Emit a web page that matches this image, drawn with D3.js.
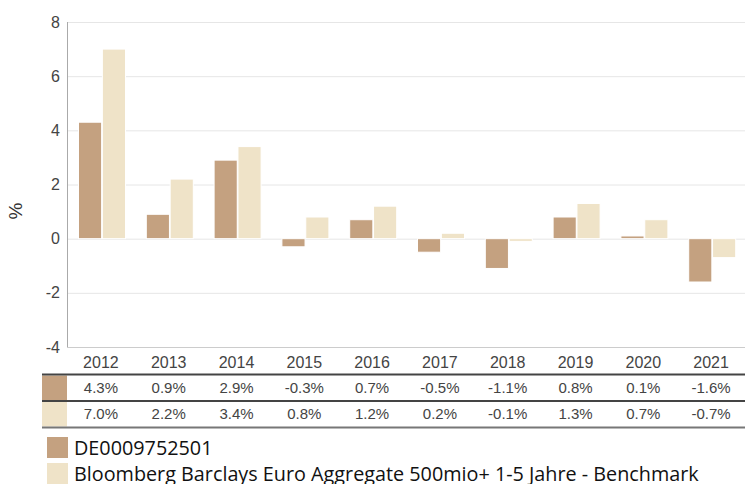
<!DOCTYPE html>
<html>
<head>
<meta charset="utf-8">
<script src="https://cdn.jsdelivr.net/npm/d3@7"></script>
<style>
  body { margin: 0; background: #fff; }
  svg { display: block; }
</style>
</head>
<body>
<div id="chart"></div>
<script>
// ---- data ----
const years = ["2012","2013","2014","2015","2016","2017","2018","2019","2020","2021"];
const fundValues = [4.3, 0.9, 2.9, -0.3, 0.7, -0.5, -1.1, 0.8, 0.1, -1.6];
const benchValues = [7.0, 2.2, 3.4, 0.8, 1.2, 0.2, -0.1, 1.3, 0.7, -0.7];
const seriesNames = ["DE0009752501", "Bloomberg Barclays Euro Aggregate 500mio+ 1-5 Jahre - Benchmark"];
const yTicks = [-4, -2, 0, 2, 4, 6, 8];

const colors = ["#c4a180", "#efe3c8"];
const W = 745, H = 484;

const svg = d3.select("#chart").append("svg")
  .attr("width", W).attr("height", H)
  .style("font-family", "'Liberation Sans', Arial, sans-serif");

const plotLeft = 67, plotRight = 745, plotTop = 22, plotBottom = 347;

const x0 = d3.scaleBand().domain(years).range([plotLeft, plotRight]).padding(0);
const x1 = d3.scaleBand().domain([0, 1]).range([11.5, 58.5]).paddingInner(0.03);
const y = d3.scaleLinear().domain([-4, 8]).range([plotBottom, plotTop]);

// gridlines + y axis
const yAxis = d3.axisLeft(y).tickValues(yTicks).tickSize(-(plotRight - plotLeft)).tickPadding(7)
  .tickFormat(d => String(d));
const gy = svg.append("g").attr("transform", `translate(${plotLeft},0)`).call(yAxis);
gy.select(".domain").remove();
gy.selectAll(".tick line").attr("stroke", "#e6e6e6");
gy.selectAll(".tick text").attr("fill", "#444").style("font-size", "16px")
  .style("font-family", "'Liberation Sans', Arial, sans-serif");

// axis lines
svg.append("line").attr("x1", plotLeft + 0.5).attr("x2", plotLeft + 0.5)
  .attr("y1", plotTop).attr("y2", plotBottom).attr("stroke", "#aaa");
svg.append("line").attr("x1", plotLeft).attr("x2", plotRight)
  .attr("y1", plotBottom + 0.5).attr("y2", plotBottom + 0.5).attr("stroke", "#ccc");

// y title
svg.append("text")
  .attr("transform", `translate(22,211) rotate(-90)`)
  .attr("text-anchor", "middle")
  .attr("fill", "#333")
  .style("font-size", "19px")
  .text("%");

// bars
const series = [fundValues, benchValues];
series.forEach((vals, s) => {
  svg.append("g").selectAll("rect")
    .data(vals)
    .join("rect")
    .attr("x", (d, i) => x0(years[i]) + x1(s))
    .attr("width", x1.bandwidth())
    .attr("y", d => y(Math.max(0, d)))
    .attr("height", d => Math.abs(y(d) - y(0)))
    .attr("fill", colors[s])
    .attr("stroke", "#fff")
    .attr("stroke-width", 1);
});

// ---- table ----
const tableLeft = 42;
const headerY = 362, rowY = [388, 414];
const lineY = [374.5, 401, 427.5];

svg.append("g").selectAll("text")
  .data(years)
  .join("text")
  .attr("x", d => x0(d) + x0.bandwidth() / 2)
  .attr("y", headerY)
  .attr("dy", "0.35em")
  .attr("text-anchor", "middle")
  .attr("fill", "#444")
  .style("font-size", "16px")
  .text(d => d);

const fmt = d => d.toFixed(1) + "%";
series.forEach((vals, s) => {
  svg.append("rect")
    .attr("x", tableLeft).attr("y", lineY[s] + 1)
    .attr("width", plotLeft - tableLeft).attr("height", lineY[s + 1] - lineY[s] - 2)
    .attr("fill", colors[s]);
  svg.append("g").selectAll("text")
    .data(vals)
    .join("text")
    .attr("x", (d, i) => x0(years[i]) + x0.bandwidth() / 2)
    .attr("y", rowY[s])
    .attr("dy", "0.35em")
    .attr("text-anchor", "middle")
    .attr("fill", "#444")
    .style("font-size", "15px")
    .text(fmt);
});

svg.append("g").selectAll("line")
  .data(lineY)
  .join("line")
  .attr("x1", tableLeft).attr("x2", plotRight)
  .attr("y1", d => d).attr("y2", d => d)
  .attr("stroke", (d, i) => i === 2 ? "#777" : "#444")
  .attr("stroke-width", 2);

// ---- legend ----
const legend = svg.append("g").attr("transform", "translate(47,437)");
seriesNames.forEach((name, i) => {
  const g = legend.append("g").attr("transform", `translate(0,${i * 26})`);
  g.append("rect").attr("width", 21).attr("height", 21).attr("fill", colors[i]);
  g.append("text")
    .attr("x", 27).attr("y", 11)
    .attr("dy", "0.35em")
    .attr("fill", "#111")
    .style("font-family", "'Open Sans', 'Noto Sans', sans-serif")
    .style("font-size", "19.8px")
    .text(name);
});
</script>
</body>
</html>
